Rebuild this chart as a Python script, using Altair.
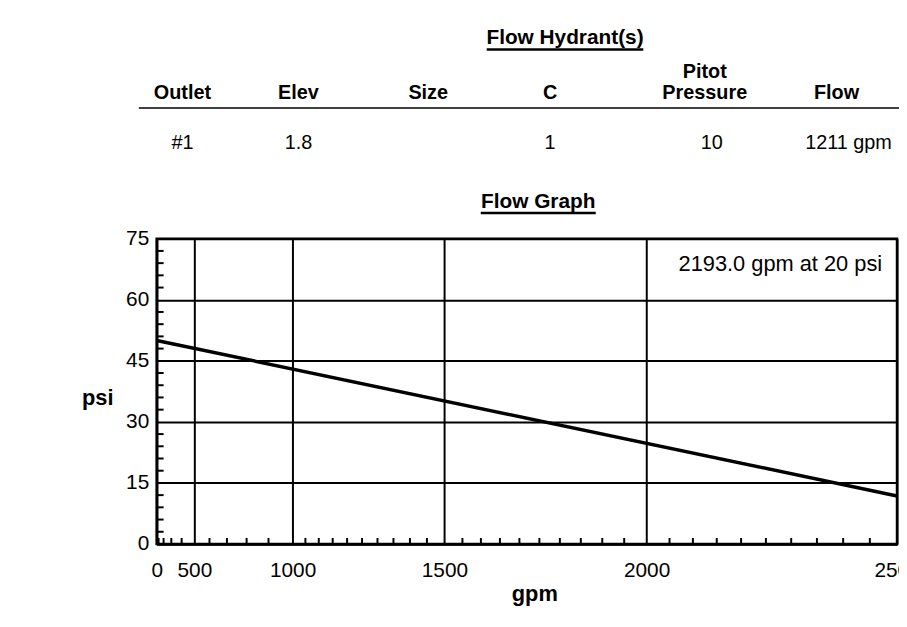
import altair as alt
import pandas as pd

# ---------------- data ----------------
flow_gpm = [0, 2500]
flow_psi = [50, 11.8]

x_major = [0, 500, 1000, 1500, 2000, 2500]
y_major = [0, 15, 30, 45, 60, 75]
x_minor = [100, 200, 300, 400, 600, 700, 800, 900,
           1050, 1100, 1150, 1200, 1250, 1300, 1350, 1400, 1450,
           1550, 1600, 1650, 1700, 1750, 1800, 1850, 1900, 1950,
           2050, 2100, 2150, 2200, 2250, 2300, 2350, 2400, 2450]
y_minor = [3, 6, 9, 12, 18, 21, 24, 27, 33, 36, 39, 42,
           48, 51, 54, 57, 63, 66, 69, 72]

header_cols = ["Outlet", "Elev", "Size", "C", "Pressure", "Flow"]
header_top = ["", "", "", "", "Pitot", ""]
row_values = ["#1", "1.8", "", "1", "10", "1211 gpm"]

title_top = "Flow Hydrant(s)"
title_graph = "Flow Graph"
annotation = "2193.0 gpm at 20 psi"
annot_gpm = [2500]
annot_psi = [75]

# ---------------- layout (pixels relative to plot origin) ----------------
col_idx = list(range(len(header_cols)))
col_px = [26, 143, 274, 397, 553, 686]      # column centres
val_px = [26, 143, 274, 397, 560, 698]      # value centres

# ---------------- tables ----------------
line_df = pd.DataFrame({"gpm": flow_gpm, "psi": flow_psi})
xminor_df = pd.DataFrame({"gpm": x_minor})
yminor_df = pd.DataFrame({"psi": y_minor})
hdr_df = pd.DataFrame({"idx": col_idx, "col": header_cols, "top": header_top,
                       "val": row_values})
annot_df = pd.DataFrame({"gpm": annot_gpm, "psi": annot_psi, "t": [annotation]})
one = pd.DataFrame({"a": [0]})

FONT = "Liberation Sans"
W, H = 747, 308

xs = alt.Scale(type="pow", exponent=1.85, domain=[0, 2500], nice=False, zero=True)
ys = alt.Scale(domain=[0, 75], nice=False)

x_axis = alt.Axis(values=x_major, title="gpm", grid=True, labelOverlap=False,
                  labelFlush=False, labelPadding=16, labelFontSize=21,
                  titleFontSize=22, titleFontWeight="bold", titleX=381, titleY=57,
                  titleAlign="center", titleBaseline="alphabetic", format="d")
y_axis = alt.Axis(values=y_major, title="psi", grid=True, labelPadding=8,
                  labelFontSize=21, titleFontSize=22, titleFontWeight="bold",
                  titleAngle=0, titleX=-60, titleY=167, titleAlign="center",
                  titleBaseline="alphabetic", format="d")

line = alt.Chart(line_df).mark_line(color="black", strokeWidth=3.5, clip=True).encode(
    x=alt.X("gpm:Q", scale=xs, axis=x_axis),
    y=alt.Y("psi:Q", scale=ys, axis=y_axis),
)

xminor = alt.Chart(xminor_df).mark_rule(color="black", strokeWidth=2).encode(
    x=alt.X("gpm:Q", scale=xs, axis=None),
    y=alt.value(H),
    y2=alt.value(H - 6),
)

yminor = alt.Chart(yminor_df).mark_rule(color="black", strokeWidth=2).encode(
    y=alt.Y("psi:Q", scale=ys, axis=y_axis),
    x=alt.value(0),
    x2=alt.value(7),
)

annot = alt.Chart(annot_df).mark_text(font=FONT, fontSize=22, align="right",
                                      baseline="alphabetic", dx=-15, dy=33,
                                      color="black").encode(
    x=alt.X("gpm:Q", scale=xs, axis=None),
    y=alt.Y("psi:Q", scale=ys, axis=y_axis),
    text="t:N",
)

col_x = alt.X("idx:Q", scale=alt.Scale(domain=col_idx, range=col_px), axis=None)
val_x = alt.X("idx:Q", scale=alt.Scale(domain=col_idx, range=val_px), axis=None)

head_bottom = alt.Chart(hdr_df).mark_text(font=FONT, fontSize=20, fontWeight="bold",
                                          baseline="alphabetic", color="black").encode(
    x=col_x, y=alt.value(-141), text="col:N")
head_top = alt.Chart(hdr_df).mark_text(font=FONT, fontSize=20, fontWeight="bold",
                                       baseline="alphabetic", color="black").encode(
    x=col_x, y=alt.value(-162), text="top:N")
row = alt.Chart(hdr_df).mark_text(font=FONT, fontSize=20, baseline="alphabetic",
                                  color="black").encode(
    x=val_x, y=alt.value(-91), text="val:N")

hdr_rule = alt.Chart(one).mark_rule(color="black", strokeWidth=1.5).encode(
    x=alt.value(-18), x2=alt.value(752), y=alt.value(-132))

t1 = alt.Chart(pd.DataFrame({"t": [title_top]})).mark_text(
    font=FONT, fontSize=21, fontWeight="bold", baseline="alphabetic", color="black").encode(
    x=alt.value(412), y=alt.value(-196), text="t:N")
t1_rule = alt.Chart(one).mark_rule(color="black", strokeWidth=2.5).encode(
    x=alt.value(333), x2=alt.value(491), y=alt.value(-191))

t2 = alt.Chart(pd.DataFrame({"t": [title_graph]})).mark_text(
    font=FONT, fontSize=21, fontWeight="bold", baseline="alphabetic", color="black").encode(
    x=alt.value(385), y=alt.value(-31), text="t:N")
t2_rule = alt.Chart(one).mark_rule(color="black", strokeWidth=2.5).encode(
    x=alt.value(327), x2=alt.value(443), y=alt.value(-26))

chart = alt.layer(
    line, xminor, yminor, annot, head_bottom, head_top, row, hdr_rule,
    t1, t1_rule, t2, t2_rule
).resolve_scale(x="independent").properties(
    width=W, height=H,
    autosize=alt.AutoSizeParams(type="none"),
    padding={"left": 150, "top": 230, "right": 2, "bottom": 81},
    background="white",
).configure_view(
    stroke="black", strokeWidth=2.5
).configure_axis(
    labelFont=FONT, titleFont=FONT, labelColor="black", titleColor="black",
    gridColor="black", gridOpacity=1, gridWidth=2, domainColor="black",
    domainWidth=2.5, ticks=False, tickSize=0
)

chart.save("out.html", embed_options={"renderer": "svg", "actions": False})
